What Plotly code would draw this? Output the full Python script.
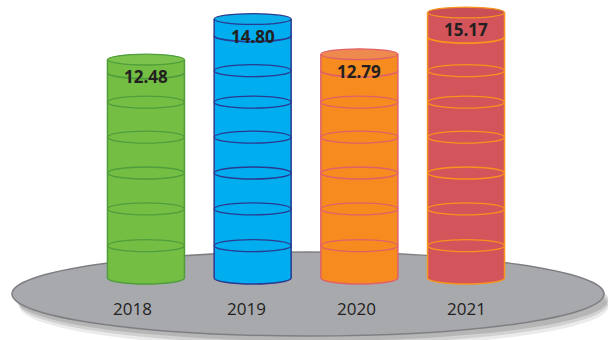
import plotly.graph_objects as go

# ---- data ----
years = ["2018", "2019", "2020", "2021"]
values = [12.48, 14.80, 12.79, 15.17]

# ---- styles ----
fills = ["#74be44", "#00adee", "#f68b1f", "#d3545a"]
tops = ["#7bc34c", "#0aaeea", "#ee8a4e", "#c94f55"]
lines = ["#4f9d3c", "#2b3990", "#e0606a", "#f7941d"]
rim_off = [0.75, 0.95, 0.95, 1.4]
year_shift = [-13, -6, -3, 0]
band_levels = [1.85, 3.95, 6.0, 8.05, 10.05, 11.85]

A = 0.3608   # half width (x data units)
B = 0.343    # ellipse half height (y data units)
K = 0.5523

xs = list(range(len(years)))

fig = go.Figure()
fig.add_trace(go.Bar(x=xs, y=values, base=0, width=2 * A,
                     marker=dict(color=fills, line=dict(width=0)),
                     hoverinfo="skip", showlegend=False))

shapes = []
# platform shadow + platform (paper coords)
for dy, op in [(0.032, 0.10), (0.022, 0.14), (0.012, 0.18)]:
    shapes.append(dict(type="circle", xref="paper", yref="paper", layer="below",
                       x0=14 / 608 + dy * 0.3, x1=606 / 608 + 0.004,
                       y0=1 - 337 / 340 - dy, y1=1 - 254 / 340 - dy,
                       fillcolor=f"rgba(60,60,60,{op})", line=dict(width=0)))
shapes.append(dict(type="circle", xref="paper", yref="paper", layer="below",
                   x0=12 / 608, x1=604 / 608, y0=1 - 336 / 340, y1=1 - 252 / 340,
                   fillcolor="#a8a9ad", line=dict(color="#7e7f82", width=1.5)))


def half_low(cx, cy, a, b):
    return (f"M {cx - a},{cy} C {cx - a},{cy - K * b} {cx - K * a},{cy - b} {cx},{cy - b} "
            f"C {cx + K * a},{cy - b} {cx + a},{cy - K * b} {cx + a},{cy}")


for i, v in enumerate(values):
    cx = xs[i]
    # bottom half-ellipse fill
    shapes.append(dict(type="path", xref="x", yref="y",
                       path=half_low(cx, 0, A, B) + " Z",
                       fillcolor=fills[i], line=dict(width=0)))
    # outline: sides + bottom arc
    p = f"M {cx - A},{v} L " + half_low(cx, 0, A, B)[2:] + f" L {cx + A},{v}"
    shapes.append(dict(type="path", xref="x", yref="y", path=p,
                       line=dict(color=lines[i], width=1.5)))
    # bands
    for lv in band_levels:
        if lv < v - 1.2:
            shapes.append(dict(type="circle", xref="x", yref="y",
                               x0=cx - A, x1=cx + A, y0=lv - B, y1=lv + B,
                               line=dict(color=lines[i], width=1.3)))
    # rim arc
    shapes.append(dict(type="path", xref="x", yref="y",
                       path=half_low(cx, v - rim_off[i], A, B),
                       line=dict(color=lines[i], width=1.8)))
    # top ellipse
    shapes.append(dict(type="circle", xref="x", yref="y",
                       x0=cx - A, x1=cx + A, y0=v - B * 0.9, y1=v + B * 0.9,
                       fillcolor=tops[i], line=dict(color=lines[i], width=1.3)))

annotations = []
for i, v in enumerate(values):
    annotations.append(dict(x=xs[i], y=v, xref="x", yref="y", yshift=-17,
                            text=f"<b>{v:.2f}</b>", showarrow=False,
                            font=dict(family="Open Sans", size=17, color="#231f20")))
    annotations.append(dict(x=xs[i], y=-1.77, xref="x", yref="y",
                            xshift=year_shift[i], text=years[i], showarrow=False,
                            font=dict(family="Open Sans", size=17, color="#231f20")))

fig.update_layout(
    width=608, height=340,
    margin=dict(l=0, r=0, t=0, b=0),
    paper_bgcolor="white", plot_bgcolor="white",
    xaxis=dict(range=[-1.3679, 4.3303], visible=False, fixedrange=True),
    yaxis=dict(range=[-3.543, 15.886], visible=False, fixedrange=True),
    shapes=shapes, annotations=annotations, showlegend=False,
)

fig.write_html("out.html")
